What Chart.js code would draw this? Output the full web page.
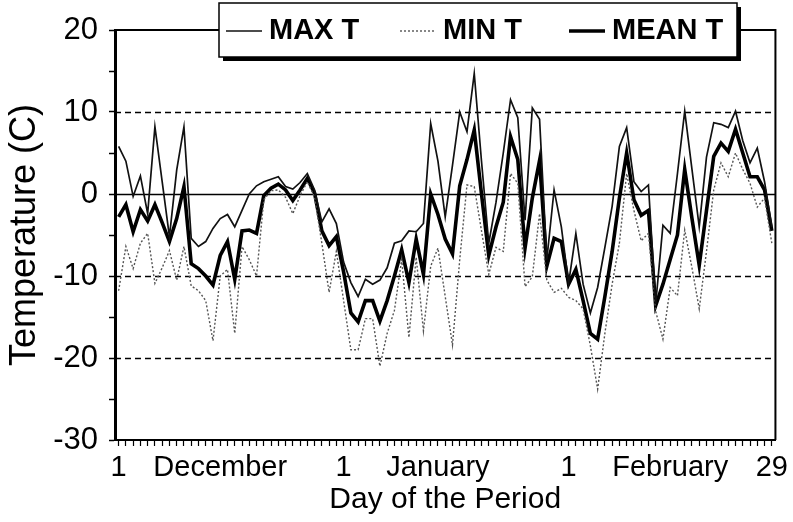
<!DOCTYPE html>
<html>
<head>
<meta charset="utf-8">
<title>Temperature</title>
<script src="https://cdn.jsdelivr.net/npm/chart.js@4.4.1/dist/chart.umd.min.js"></script>
<style>
  html, body { margin: 0; padding: 0; background: #fff; }
</style>
</head>
<body>
<canvas id="chart" width="793" height="522"></canvas>
<script>
// --- data: 91 days, 1 December .. 29 February ---
const days = Array.from({ length: 91 }, (_, i) => i);

const maxT = [
   5.8,  4.0, -0.3,  2.2, -2.4,  8.2,  1.5, -5.2,  2.9,  8.2,
  -5.4, -6.4, -5.8, -4.2, -3.0, -2.5, -4.0, -2.0,  0.0,  1.0,
   1.5,  1.8,  2.1,  0.9,  0.6,  1.4,  2.5,  0.5, -3.4, -1.8,
  -3.6, -8.3,-10.8,-12.5,-10.4,-11.0,-10.5, -9.0, -6.0, -5.7,
  -4.5, -4.6, -3.6,  8.6,  4.0, -2.8,  3.5, 10.0,  7.6, 14.7,
   4.0, -6.0, -1.0,  5.0, 11.5,  9.3, -3.2, 10.5,  9.1, -8.0,
   0.5, -4.0,-10.9, -4.8,-11.0,-14.5,-11.4, -6.5, -1.5,  5.8,
   8.1,  1.5,  0.3,  1.1,-13.4, -3.8, -4.8,  2.5, 10.1,  3.0,
  -4.0,  4.5,  8.7,  8.5,  8.1, 10.1,  6.5,  3.8,  5.6,  1.5,
  -4.0
];

const minT = [
 -11.8, -6.4, -9.1, -6.0, -4.8,-10.9, -9.0, -6.9,-10.5, -6.4,
 -11.2,-11.8,-13.0,-17.9,-10.0, -9.2,-17.0, -6.4, -8.0,-10.0,
  -0.7,  0.4,  0.5, -0.4, -2.4, -0.2,  1.5, -0.4, -6.0,-12.0,
  -7.0,-13.0,-19.0,-19.0,-15.2,-15.2,-21.0,-17.0,-14.2, -8.0,
 -17.5, -7.7,-16.7, -8.8, -6.6,-12.5,-18.4, -8.0,  1.1,  0.9,
  -4.5, -9.8, -6.5, -7.0,  2.5,  1.3,-11.3,-10.1, -2.4,-10.5,
 -12.0,-11.5,-12.6,-13.0,-14.0,-18.5,-23.8,-17.0,-11.0, -6.0,
   2.5, -2.0, -5.7, -4.8,-14.3,-17.7,-11.4,-12.4, -4.4, -9.0,
 -14.0, -7.0,  0.5,  3.8,  2.1,  5.0,  3.0,  1.3, -1.6, -0.5,
  -6.0
];

const meanT = [
  -2.8, -1.3, -4.6, -1.9, -3.3, -1.3, -3.5, -5.8, -3.0,  0.9,
  -8.5, -9.1,-10.0,-11.1, -7.5, -5.8,-10.4, -4.5, -4.4, -4.8,
  -0.2,  0.7,  1.2,  0.5, -0.8,  0.5,  1.9,  0.1, -4.5, -6.3,
  -5.2, -9.5,-14.5,-15.6,-13.0,-13.0,-15.5,-13.0,-10.0, -6.8,
 -10.8, -5.5, -9.8,  0.0, -2.5, -5.5, -7.3,  1.0,  4.2,  7.8,
   0.0, -7.5, -4.0, -1.0,  7.0,  4.2, -6.6, -0.5,  4.1, -8.8,
  -5.4, -5.8,-11.0, -9.2,-13.0,-17.0,-17.7,-12.5, -7.0, -0.5,
   5.0, -0.7, -2.6, -2.0,-13.6,-11.0, -8.0, -5.0,  3.0, -3.0,
  -8.7, -2.0,  4.6,  6.2,  5.2,  7.9,  5.0,  2.1,  2.1,  0.5,
  -4.5
];

// x labels: day index -> text
const tickDays = [0, 14, 31, 44, 62, 76, 90];
const tickText = ['1', 'December', '1', 'January', '1', 'February', '29'];

// y tick marks every 5, labels every 10
const yMarks = [20, 15, 10, 5, 0, -5, -10, -15, -20, -25, -30];
const yLabels = [20, 10, 0, -10, -20, -30];
const dashedLines = [10, -10, -20];

const FONT = "'Liberation Sans', Arial, Helvetica, sans-serif";

// --- horizontal reference lines and frame ---
const framePlugin = {
    id: 'frame',
    beforeDatasetsDraw(chart) {
        const { ctx, chartArea: a, scales: { y } } = chart;
        ctx.save();
        ctx.strokeStyle = '#000';
        ctx.lineWidth = 1.6;
        ctx.setLineDash([6, 4]);
        dashedLines.forEach(v => {
            const py = Math.round(y.getPixelForValue(v)) + 0.5;
            ctx.beginPath();
            ctx.moveTo(a.left, py);
            ctx.lineTo(a.right, py);
            ctx.stroke();
        });
        ctx.setLineDash([]);
        const zero = Math.round(y.getPixelForValue(0)) + 0.5;
        ctx.beginPath();
        ctx.moveTo(a.left, zero);
        ctx.lineTo(a.right, zero);
        ctx.stroke();
        // top and right border
        ctx.lineWidth = 2;
        ctx.beginPath();
        ctx.moveTo(a.left, a.top);
        ctx.lineTo(a.right, a.top);
        ctx.lineTo(a.right, a.bottom);
        ctx.stroke();
        ctx.restore();
    }
};

// --- boxed legend with a drop shadow, overlapping the top border ---
const legendPlugin = {
    id: 'boxLegend',
    afterDraw(chart) {
        const { ctx } = chart;
        const box = { x: 219, y: 3, w: 518, h: 54 };
        const itemX = [226, 400, 569];
        ctx.save();
        ctx.fillStyle = '#000';
        ctx.fillRect(box.x + 4, box.y + 4, box.w, box.h);
        ctx.fillStyle = '#fff';
        ctx.fillRect(box.x, box.y, box.w, box.h);
        ctx.strokeStyle = '#000';
        ctx.lineWidth = 1.5;
        ctx.strokeRect(box.x, box.y, box.w, box.h);

        const cy = box.y + box.h / 2 + 1;
        ctx.font = 'bold 29px ' + FONT;
        ctx.textBaseline = 'middle';
        ctx.fillStyle = '#000';
        chart.data.datasets.forEach((ds, i) => {
            const x0 = itemX[i];
            ctx.strokeStyle = ds.borderColor;
            ctx.lineWidth = ds.borderWidth;
            ctx.setLineDash(ds.borderDash || []);
            ctx.beginPath();
            ctx.moveTo(x0, cy);
            ctx.lineTo(x0 + 36, cy);
            ctx.stroke();
            ctx.setLineDash([]);
            ctx.fillText(ds.label, x0 + 43, cy);
        });
        ctx.restore();
    }
};

const toPoints = vals => vals.map((v, i) => ({ x: days[i], y: v }));

new Chart(document.getElementById('chart'), {
    type: 'line',
    data: {
        datasets: [
            { label: 'MAX T', data: toPoints(maxT), borderColor: '#111', borderWidth: 1.7, pointRadius: 0 },
            { label: 'MIN T', data: toPoints(minT), borderColor: '#555', borderWidth: 1.4, borderDash: [2, 2], pointRadius: 0 },
            { label: 'MEAN T', data: toPoints(meanT), borderColor: '#000', borderWidth: 3.6, pointRadius: 0 }
        ]
    },
    options: {
        responsive: false,
        animation: false,
        layout: { padding: { top: 30, right: 12, left: 0, bottom: 0 } },
        plugins: { legend: { display: false }, tooltip: { enabled: false } },
        scales: {
            x: {
                type: 'linear',
                min: -0.5,
                max: 90.5,
                afterBuildTicks: s => { s.ticks = days.map(d => ({ value: d })); },
                afterFit: s => { s.height = 82; },
                grid: { drawOnChartArea: false, tickLength: 6, tickColor: '#000', tickWidth: 1.2 },
                border: { color: '#000', width: 2 },
                ticks: {
                    autoSkip: false,
                    maxRotation: 0,
                    padding: 5,
                    color: '#000',
                    font: { family: FONT, size: 29 },
                    callback: v => {
                        const k = tickDays.indexOf(v);
                        return k < 0 ? '' : tickText[k];
                    }
                },
                title: {
                    display: true,
                    text: 'Day of the Period',
                    color: '#000',
                    font: { family: FONT, size: 30 },
                    padding: { top: 0, bottom: 4 }
                }
            },
            y: {
                min: -30,
                max: 20,
                afterBuildTicks: s => { s.ticks = yMarks.map(v => ({ value: v })); },
                afterFit: s => { s.width = 115; },
                grid: { drawOnChartArea: false, tickLength: 6, tickColor: '#000', tickWidth: 1.5 },
                border: { color: '#000', width: 3 },
                ticks: {
                    padding: 11,
                    color: '#000',
                    font: { family: FONT, size: 31 },
                    callback: v => yLabels.includes(v) ? String(v) : ''
                },
                title: {
                    display: true,
                    text: 'Temperature (C)',
                    color: '#000',
                    font: { family: FONT, size: 36 },
                    padding: { top: 3, bottom: 0 }
                }
            }
        }
    },
    plugins: [framePlugin, legendPlugin]
});
</script>
</body>
</html>
